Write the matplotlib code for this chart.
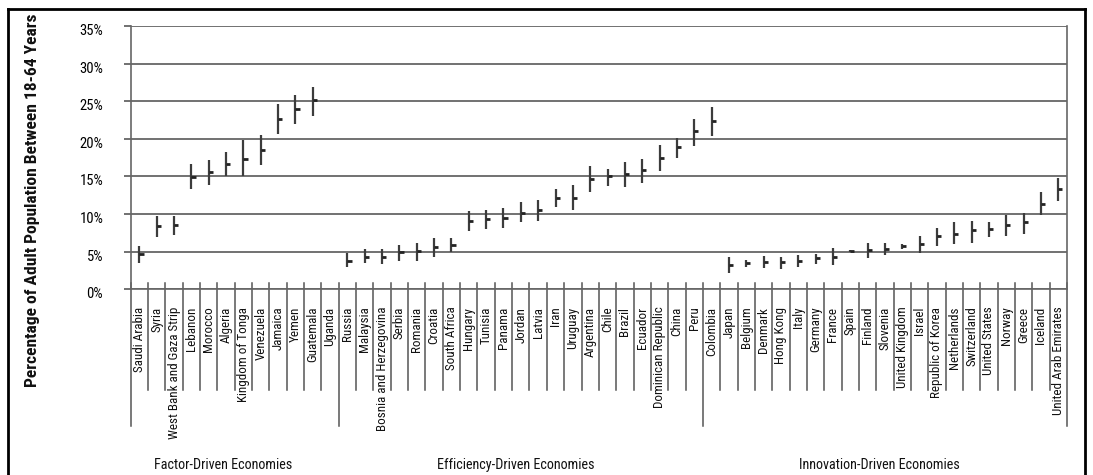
import numpy as np
import matplotlib
matplotlib.use("Agg")
import matplotlib.pyplot as plt
from matplotlib import font_manager
from matplotlib.lines import Line2D
import matplotlib.transforms as mtransforms

# ---------------- data ----------------
factor_countries = ["Saudi Arabia", "Syria", "West Bank and Gaza Strip", "Lebanon", "Morocco",
                    "Algeria", "Kingdom of Tonga", "Venezuela", "Jamaica", "Yemen", "Guatemala",
                    "Uganda"]
efficiency_countries = ["Russia", "Malaysia", "Bosnia and Herzegovina", "Serbia", "Romania",
                        "Croatia", "South Africa", "Hungary", "Tunisia", "Panama", "Jordan",
                        "Latvia", "Iran", "Uruguay", "Argentina", "Chile", "Brazil", "Ecuador",
                        "Dominican Republic", "China", "Peru"]
innovation_countries = ["Colombia", "Japan", "Belgium", "Denmark", "Hong Kong", "Italy",
                        "Germany", "France", "Spain", "Finland", "Slovenia", "United Kingdom",
                        "Israel", "Republic of Korea", "Netherlands", "Switzerland",
                        "United States", "Norway", "Greece", "Iceland", "United Arab Emirates"]

# point estimate (%), lower and upper bound (%)
estimate = [4.7, 8.4, 8.6, 14.9, 15.6, 16.7, 17.3, 18.5, 22.7, 24.0, 25.1, None,
            3.8, 4.3, 4.3, 4.9, 5.1, 5.6, 5.9, 9.1, 9.4, 9.5, 10.2, 10.5, 12.1, 12.1,
            14.6, 15.0, 15.3, 15.8, 17.5, 18.9, 21.0,
            22.4, 3.2, 3.5, 3.6, 3.6, 3.8, 4.2, 4.3, 5.1, 5.2, 5.3, 5.7, 6.0, 7.1,
            7.4, 7.9, 8.0, 8.6, 9.0, 11.4, 13.3]
lower = [3.5, 7.0, 7.2, 13.3, 13.9, 15.0, 15.0, 16.5, 20.7, 22.0, 23.0, None,
         2.9, 3.5, 3.4, 3.7, 3.8, 4.3, 4.9, 7.8, 8.0, 8.2, 8.9, 9.1, 10.9, 10.5,
         12.9, 13.7, 13.6, 14.1, 15.7, 17.5, 19.0,
         20.4, 2.2, 2.9, 2.8, 2.7, 2.9, 3.4, 3.2, 5.0, 4.1, 4.5, 5.4, 4.8, 5.8,
         6.0, 6.2, 6.9, 7.1, 7.4, 9.9, 11.7]
upper = [5.7, 9.8, 9.7, 16.7, 17.2, 18.3, 19.8, 20.5, 24.6, 25.8, 26.9, None,
         4.8, 5.3, 5.3, 5.9, 6.1, 6.8, 6.8, 10.4, 10.6, 10.8, 11.6, 11.9, 13.3, 13.8,
         16.4, 16.0, 16.9, 17.3, 19.2, 20.1, 22.7,
         24.2, 4.3, 3.9, 4.4, 4.3, 4.6, 4.7, 5.5, 5.2, 6.1, 6.2, 6.0, 7.1, 8.1,
         9.0, 9.1, 8.9, 9.9, 10.1, 13.0, 14.8]

group_names = ["Factor-Driven Economies", "Efficiency-Driven Economies",
               "Innovation-Driven Economies"]
y_ticks = [0, 5, 10, 15, 20, 25, 30, 35]
y_label = "Percentage of Adult Population Between 18-64 Years"

# ---------------- fonts ----------------
avail = {f.name for f in font_manager.fontManager.ttflist}
font = next((f for f in ["Liberation Sans Narrow", "Roboto Condensed", "DejaVu Sans Condensed",
                         "Open Sans Condensed", "Liberation Sans"] if f in avail), "DejaVu Sans")
plt.rcParams["font.family"] = [font, "DejaVu Sans"]
plt.rcParams["text.color"] = "#111111"

# ---------------- figure ----------------
W, H = 1093, 475
fig = plt.figure(figsize=(W / 100, H / 100), dpi=100)
ax_left, ax_right, ax_top, ax_bot = 130.7, 1067.0, 26.0, 289.3
ax = fig.add_axes([ax_left / W, 1 - ax_bot / H, (ax_right - ax_left) / W, (ax_bot - ax_top) / H])

groups = [factor_countries, efficiency_countries, innovation_countries]
countries = factor_countries + efficiency_countries + innovation_countries
n = len(countries)
xpos = np.arange(n) + 0.5

def arr(v):
    return np.array([np.nan if a is None else a for a in v], dtype=float)

est, lo, hi = arr(estimate), arr(lower), arr(upper)

ax.set_xlim(0, n)
ax.set_ylim(0, 35)
ax.set_yticks(y_ticks)
ax.set_yticklabels([f"{t}%" for t in y_ticks])
ax.yaxis.grid(True, color="#4a4a4a", lw=1.1)
ax.set_axisbelow(True)
ax.set_xticks([])
ax.spines["top"].set_visible(False)
for s in ["left", "right", "bottom"]:
    ax.spines[s].set_color("#666666")
    ax.spines[s].set_linewidth(1.2)
ax.tick_params(axis="y", length=5.4, width=1.1, color="#4a4a4a", pad=14.4, labelsize=10.5)
offset = mtransforms.ScaledTranslation(0, -3.5 / 100, fig.dpi_scale_trans)
for lab in ax.get_yticklabels():
    lab.set_transform(lab.get_transform() + offset)

ax.vlines(xpos, lo, hi, colors="#3c3c3c", lw=1.6, zorder=3)
ax.hlines(est, xpos, xpos + 0.24, colors="#222222", lw=2.0, zorder=3)

# category axis (multi-level)
ah = ax_bot - ax_top
xt = ax.get_xaxis_transform()
bounds = np.cumsum([0] + [len(g) for g in groups])
for b in range(n + 1):
    bottom = -136.4 / ah if b in bounds else -100.7 / ah
    ax.plot([b, b], [6 / ah, bottom], transform=xt, clip_on=False, color="#555555", lw=1.1)
for xi, name in zip(xpos, countries):
    ax.text(xi, -17.4 / ah, name, rotation=90, ha="center", va="top", transform=xt,
            fontsize=9.4)
label_shift = [-0.66, -0.3, -0.3]
for g, name in enumerate(group_names):
    cx = (bounds[g] + bounds[g + 1]) / 2 + label_shift[g]
    ax.text(cx, -176 / ah, name, ha="center", va="center", transform=xt, fontsize=10.2)

fig.text(33 / W, 1 - 200 / H, y_label, rotation=90, ha="center", va="center",
         fontsize=12.6, fontweight="bold")

# outer frame
for xs, ys in [([8 / W, 8 / W], [0, 1 - 8.5 / H]), ([8 / W, 1085 / W], [1 - 8.5 / H, 1 - 8.5 / H]),
               ([1085 / W, 1085 / W], [0, 1 - 8.5 / H])]:
    fig.add_artist(Line2D(xs, ys, color="black", lw=2.0, transform=fig.transFigure))

fig.savefig("out.png", dpi=100, facecolor="white")
